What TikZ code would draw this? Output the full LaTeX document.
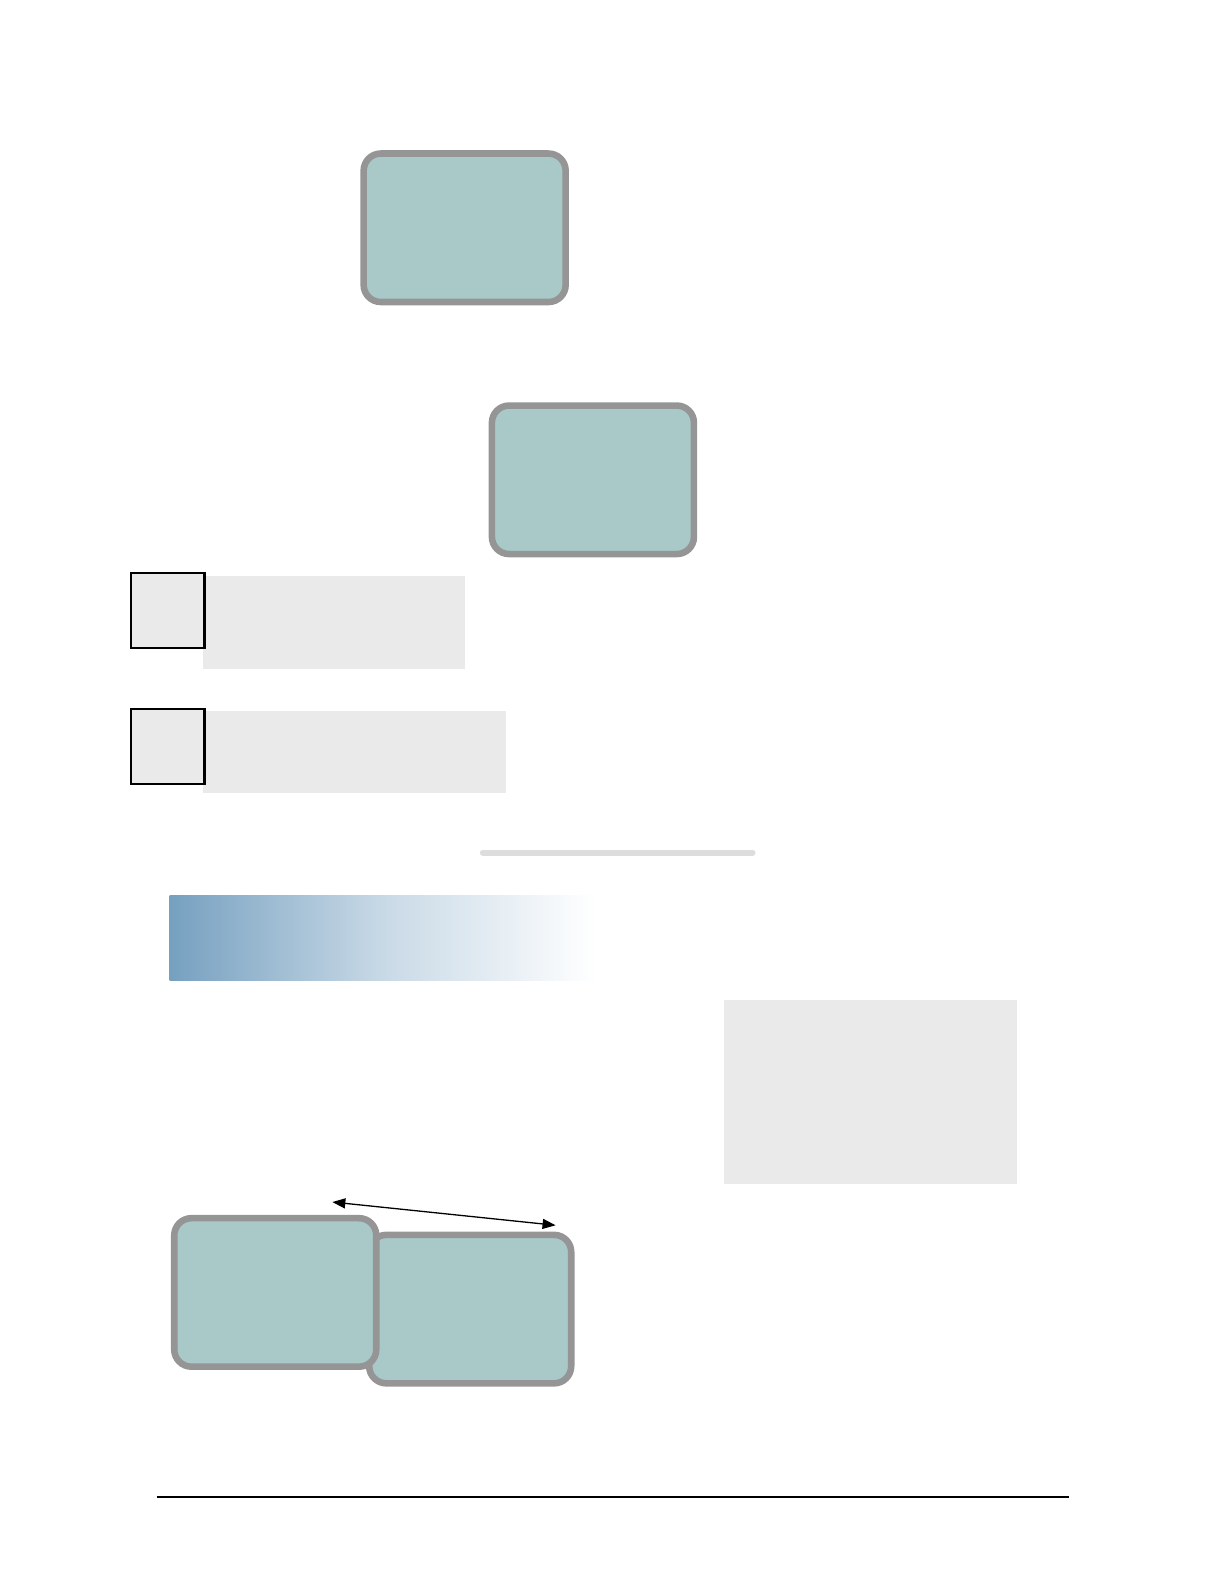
\documentclass[tikz,border=0pt]{standalone}
\usepackage{tikz}
\usetikzlibrary{positioning,arrows.meta}
\definecolor{boxFill}{RGB}{168,201,200}
\definecolor{boxLine}{RGB}{149,149,149}
\definecolor{panelFill}{RGB}{234,234,234}
\definecolor{barBlue}{RGB}{118,160,192}
\definecolor{ruleGray}{RGB}{221,221,221}
\newdimen\unitLen
\unitLen=1.0101bp
\tikzstyle{page} = [x = \unitLen, y = -\unitLen]
\tikzstyle{roundBox} = [draw=boxLine, fill=boxFill, line width=6.5\unitLen, rounded corners=17\unitLen, inner sep=0pt, outer sep=0pt, minimum width=200\unitLen, minimum height=147\unitLen]
\tikzstyle{panelBox} = [fill=panelFill, inner sep=0pt, outer sep=0pt]
\tikzstyle{markBox} = [draw=black, fill=panelFill, line width=2.2\unitLen, inner sep=0pt, outer sep=0pt, minimum width=73\unitLen, minimum height=74\unitLen]
\tikzstyle{linkArrow} = [{Triangle[length=13bp,width=10bp]}-{Triangle[length=13bp,width=10bp]}, line width=1.3bp]
\newcommand{\panel}[5]{\node [panelBox, minimum width=#4\unitLen - #2\unitLen, minimum height=#5\unitLen - #3\unitLen] (#1) at ({(#2 + #4) / 2}, {(#3 + #5) / 2}) {};}

\begin{document}
\begin{tikzpicture}[page]
  \useasboundingbox (0,0) rectangle (1211.76,1568.16);

  % upper boxes
  \node [roundBox] (topBox) at (460,225.5) {};
  \node [roundBox] (midBox) at (587,475) {};

  % panels with marks
  \panel{panelOne}{201}{570}{460}{662}
  \node [markBox] (markOne) at (166,604.5) {};
  \panel{panelTwo}{201}{704}{501}{785}
  \node [markBox] (markTwo) at (166,739) {};

  % separator
  \coordinate (ruleLeft) at (478,844);
  \coordinate (ruleRight) at (745,844);
  \draw [ruleGray, line width=6\unitLen, line cap=round] (ruleLeft) -- (ruleRight);

  % heading bar
  \fill [left color=barBlue, right color=white, middle color=barBlue!40!white] (168,887) rectangle (590,971);

  \panel{sidePanel}{717}{990}{1007}{1172}

  % lower pair
  \node [roundBox] (backBox) at (465.5,1296) {};
  \node [roundBox] (frontBox) at (272.5,1279.5) {};

  \coordinate (arrowStart) at (329,1190);
  \coordinate (arrowEnd) at (550,1213);
  \draw [linkArrow] (arrowStart) -- (arrowEnd);

  % foot rule
  \coordinate (footLeft) at (155,1482);
  \coordinate (footRight) at (1058,1482);
  \draw [line width=1.3bp] (footLeft) -- (footRight);
\end{tikzpicture}
\end{document}
